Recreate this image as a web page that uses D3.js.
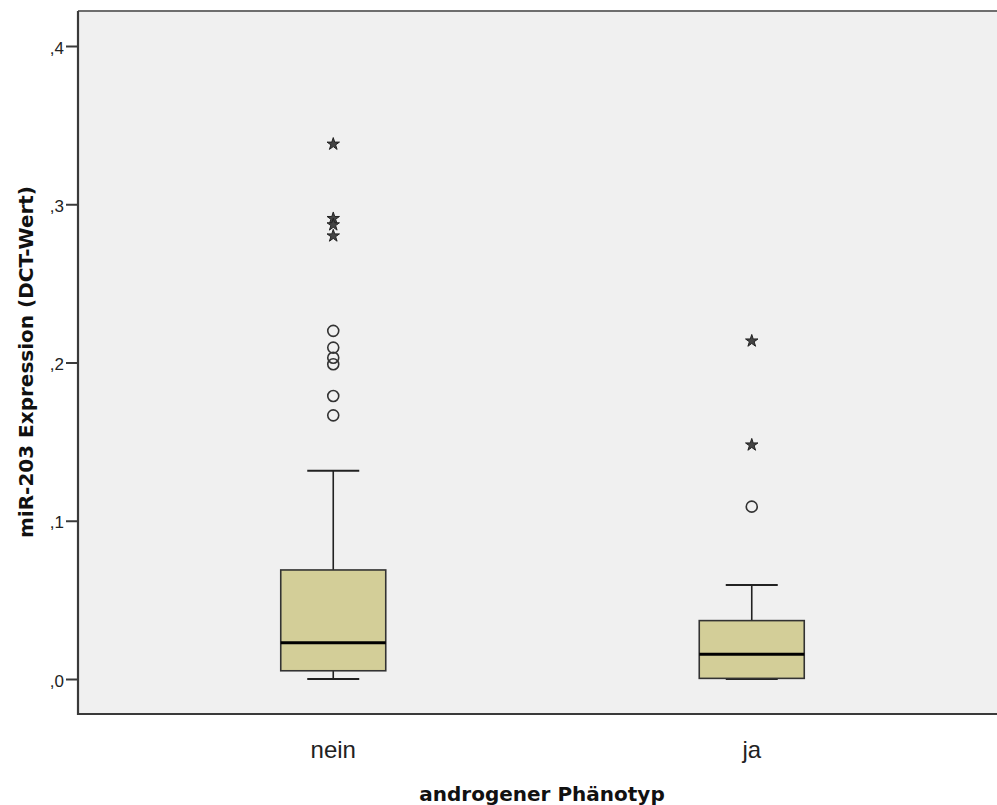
<!DOCTYPE html>
<html>
<head>
<meta charset="utf-8">
<script src="https://cdn.jsdelivr.net/npm/d3@7"></script>
<style>
  body { margin: 0; background: #fff; }
</style>
</head>
<body>
<svg id="svg"></svg>
<script>
// boxplot stats
const groups = ["nein", "ja"];
const whiskerLow = [0.0, 0.0];
const q1 = [0.0052, 0.0004];
const median = [0.0229, 0.0156];
const q3 = [0.0689, 0.0369];
const whiskerHigh = [0.1316, 0.0594];
// circles = outliers, stars = extreme values
const outliersNein = [0.220, 0.2094, 0.203, 0.1989, 0.1788, 0.1666];
const extremesNein = [0.338, 0.291, 0.287, 0.280];
const outliersJa = [0.1089];
const extremesJa = [0.2136, 0.1479];
const yTicks = [0, 0.1, 0.2, 0.3, 0.4];

const width = 997, height = 805;
const plot = { left: 78, top: 11, right: 999, bottom: 714 };

const svg = d3.select('#svg')
    .attr('width', width)
    .attr('height', height);

const y = d3.scaleLinear().domain([0, 0.4]).range([679, 46]);
const x = d3.scalePoint().domain(groups).range([124, 961]).padding(0.5);

const boxW = 105, capW = 52;

svg.append('rect')
    .attr('x', plot.left)
    .attr('y', plot.top)
    .attr('width', plot.right - plot.left)
    .attr('height', plot.bottom - plot.top)
    .attr('fill', '#f0f0f0');

// frame
svg.append('line')
    .attr('x1', plot.left).attr('x2', plot.right)
    .attr('y1', plot.top).attr('y2', plot.top)
    .attr('stroke', '#6e6e6e').attr('stroke-width', 2.2);
svg.append('path')
    .attr('d', `M${plot.left},${plot.top}V${plot.bottom}H${plot.right}`)
    .attr('fill', 'none')
    .attr('stroke', '#3a3a3a')
    .attr('stroke-width', 2.2);

// y axis
const yAxis = svg.append('g')
    .attr('transform', `translate(${plot.left},0)`)
    .call(d3.axisLeft(y).tickValues(yTicks).tickSize(12).tickPadding(2)
        .tickFormat(d => d3.format('.1f')(d).replace('0.', ',')));
yAxis.select('.domain').remove();
yAxis.selectAll('line').attr('stroke', '#3a3a3a').attr('stroke-width', 2);
yAxis.selectAll('text')
    .attr('font-family', '"Liberation Sans", Arial, sans-serif')
    .attr('font-size', 17)
    .attr('fill', '#222')
    .attr('dy', '0.42em');

const stats = groups.map((g, i) => ({
    g, lo: whiskerLow[i], q1: q1[i], med: median[i], q3: q3[i], hi: whiskerHigh[i]
}));

const box = svg.append('g')
    .selectAll('g')
    .data(stats)
    .join('g');

box.append('line')
    .attr('x1', d => x(d.g)).attr('x2', d => x(d.g))
    .attr('y1', d => y(d.hi)).attr('y2', d => y(d.lo))
    .attr('stroke', '#222').attr('stroke-width', 1.6);

box.selectAll('.cap')
    .data(d => [d.lo, d.hi].map(v => ({ g: d.g, v })))
    .join('line')
        .attr('x1', d => x(d.g) - capW / 2).attr('x2', d => x(d.g) + capW / 2)
        .attr('y1', d => y(d.v)).attr('y2', d => y(d.v))
        .attr('stroke', '#222').attr('stroke-width', 1.8);

box.append('rect')
    .attr('x', d => x(d.g) - boxW / 2)
    .attr('width', boxW)
    .attr('y', d => y(d.q3))
    .attr('height', d => y(d.q1) - y(d.q3))
    .attr('fill', '#d3ce98')
    .attr('stroke', '#333')
    .attr('stroke-width', 1.6);

box.append('line')
    .attr('x1', d => x(d.g) - boxW / 2).attr('x2', d => x(d.g) + boxW / 2)
    .attr('y1', d => y(d.med)).attr('y2', d => y(d.med))
    .attr('stroke', '#000').attr('stroke-width', 3);

// outliers
const circles = [
    ...outliersNein.map(v => ({ g: 'nein', v })),
    ...outliersJa.map(v => ({ g: 'ja', v }))
];
const stars = [
    ...extremesNein.map(v => ({ g: 'nein', v })),
    ...extremesJa.map(v => ({ g: 'ja', v }))
];

svg.append('g')
    .selectAll('circle')
    .data(circles)
    .join('circle')
        .attr('cx', d => x(d.g))
        .attr('cy', d => y(d.v))
        .attr('r', 5.5)
        .attr('fill', 'none')
        .attr('stroke', '#333')
        .attr('stroke-width', 1.6);

svg.append('g')
    .selectAll('path')
    .data(stars)
    .join('path')
        .attr('transform', d => `translate(${x(d.g)},${y(d.v)})`)
        .attr('d', d3.symbol(d3.symbolStar, 48))
        .attr('fill', '#444')
        .attr('stroke', '#222')
        .attr('stroke-width', 1);

// category labels
svg.append('g')
    .selectAll('text')
    .data(groups)
    .join('text')
        .attr('x', d => x(d))
        .attr('y', 758)
        .attr('text-anchor', 'middle')
        .attr('font-family', '"Liberation Sans", Arial, sans-serif')
        .attr('font-size', 24)
        .attr('fill', '#222')
        .text(d => d);

svg.append('text')
    .attr('x', 542)
    .attr('y', 801)
    .attr('text-anchor', 'middle')
    .attr('font-family', '"DejaVu Sans", sans-serif')
    .attr('font-weight', 'bold')
    .attr('font-size', 20)
    .attr('fill', '#111')
    .text('androgener Phänotyp');

svg.append('text')
    .attr('transform', 'translate(33,362) rotate(-90)')
    .attr('text-anchor', 'middle')
    .attr('font-family', '"DejaVu Sans", sans-serif')
    .attr('font-weight', 'bold')
    .attr('font-size', 20)
    .attr('fill', '#111')
    .text('miR-203 Expression (DCT-Wert)');
</script>
</body>
</html>
